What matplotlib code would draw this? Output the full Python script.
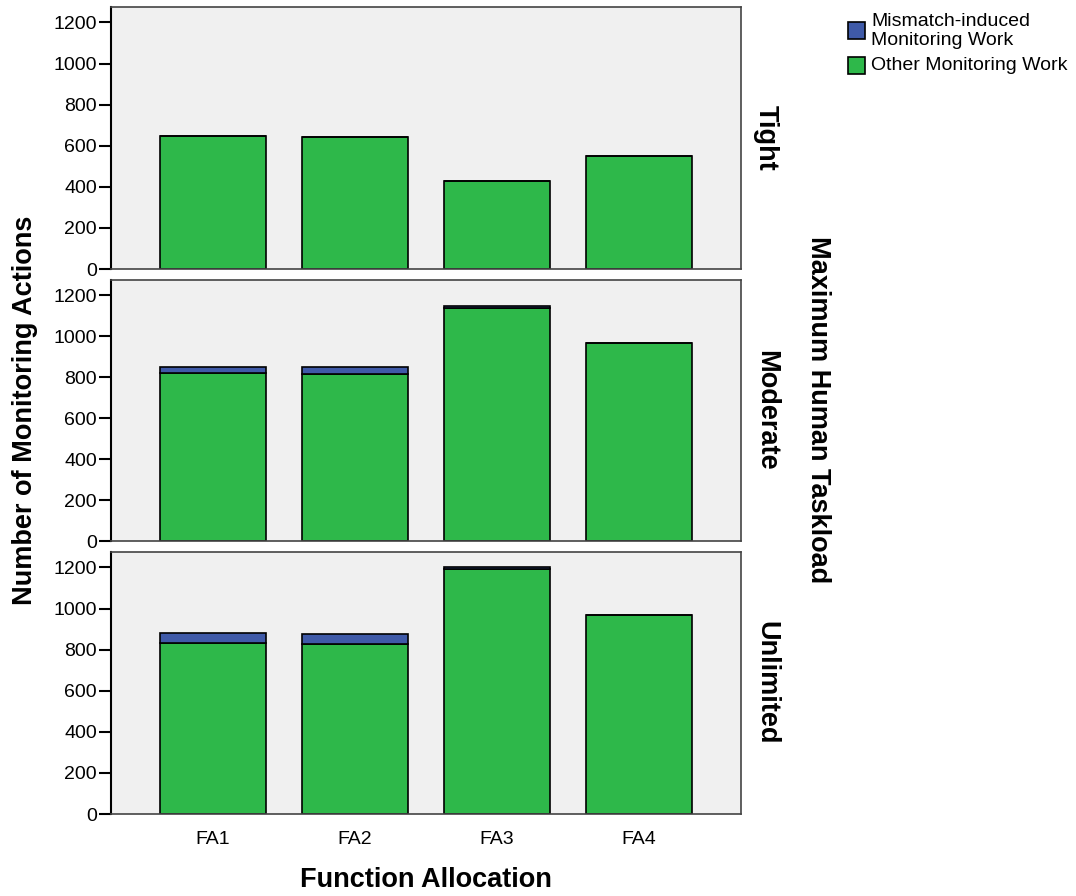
import matplotlib.pyplot as plt
from matplotlib.patches import Rectangle

plt.rcParams["font.family"] = ["Liberation Sans", "DejaVu Sans"]

# data
allocations = ["FA1", "FA2", "FA3", "FA4"]
taskloads = ["Tight", "Moderate", "Unlimited"]
other_work = {
    "Tight": [645, 640, 430, 550],
    "Moderate": [822, 818, 1140, 968],
    "Unlimited": [830, 828, 1190, 970],
}
mismatch_work = {
    "Tight": [0, 0, 0, 0],
    "Moderate": [30, 30, 8, 0],
    "Unlimited": [52, 50, 12, 0],
}
y_ticks = [0, 200, 400, 600, 800, 1000, 1200]

green = "#2EB84A"
blue = "#3F5AA8"

fig = plt.figure(figsize=(10.76, 8.96), dpi=100)
W, H = 1076, 896

# panel boxes in pixels (left, top, right, bottom)
panels = [(111, 7, 741, 269), (111, 280, 741, 541), (111, 552, 741, 814)]

x = list(range(len(allocations)))
for i, (name, box) in enumerate(zip(taskloads, panels)):
    l, t, r, b = box
    ax = fig.add_axes([l / W, 1 - b / H, (r - l) / W, (b - t) / H])
    ax.set_facecolor("#F0F0F0")
    ax.bar(x, other_work[name], width=0.75, color=green, edgecolor="black", linewidth=1.2)
    ax.bar(x, mismatch_work[name], width=0.75, bottom=other_work[name],
           color=blue, edgecolor="black", linewidth=1.2)
    ax.set_xlim(-0.72, 3.72)
    ax.set_ylim(0, 1275)
    ax.set_yticks(y_ticks)
    ax.tick_params(axis="y", labelsize=14, length=9, width=1.5, direction="out", pad=1)
    ax.tick_params(axis="x", length=0, labelsize=14, pad=12)
    for s in ["top", "right", "bottom"]:
        ax.spines[s].set_color("#444444")
        ax.spines[s].set_linewidth(1.2)
    ax.spines["left"].set_linewidth(1.5)
    if i < 2:
        ax.set_xticks([])
    else:
        ax.set_xticks(x)
        ax.set_xticklabels(allocations)
    ax.text(1.04, 0.5, name, transform=ax.transAxes, rotation=-90,
            ha="center", va="center", fontsize=19.5, fontweight="bold")

fig.text(818 / W, 1 - 410 / H, "Maximum Human Taskload", rotation=-90,
         ha="center", va="center", fontsize=19.5, fontweight="bold")
fig.text(25 / W, 1 - 410 / H, "Number of Monitoring Actions", rotation=90,
         ha="center", va="center", fontsize=19.5, fontweight="bold")
fig.text(426 / W, 1 - 880 / H, "Function Allocation",
         ha="center", va="center", fontsize=19.5, fontweight="bold")

# legend
leg_items = [(blue, "Mismatch-induced\nMonitoring Work", 31), (green, "Other Monitoring Work", 66)]
for color, label, yc in leg_items:
    fig.patches.append(Rectangle((848 / W, 1 - (yc + 8) / H), 17 / W, 17 / H,
                                 transform=fig.transFigure, facecolor=color,
                                 edgecolor="black", linewidth=1.2))
    fig.text(871 / W, 1 - yc / H, label, ha="left", va="center",
             fontsize=14, linespacing=1.1)

fig.savefig("out.png", dpi=100)
